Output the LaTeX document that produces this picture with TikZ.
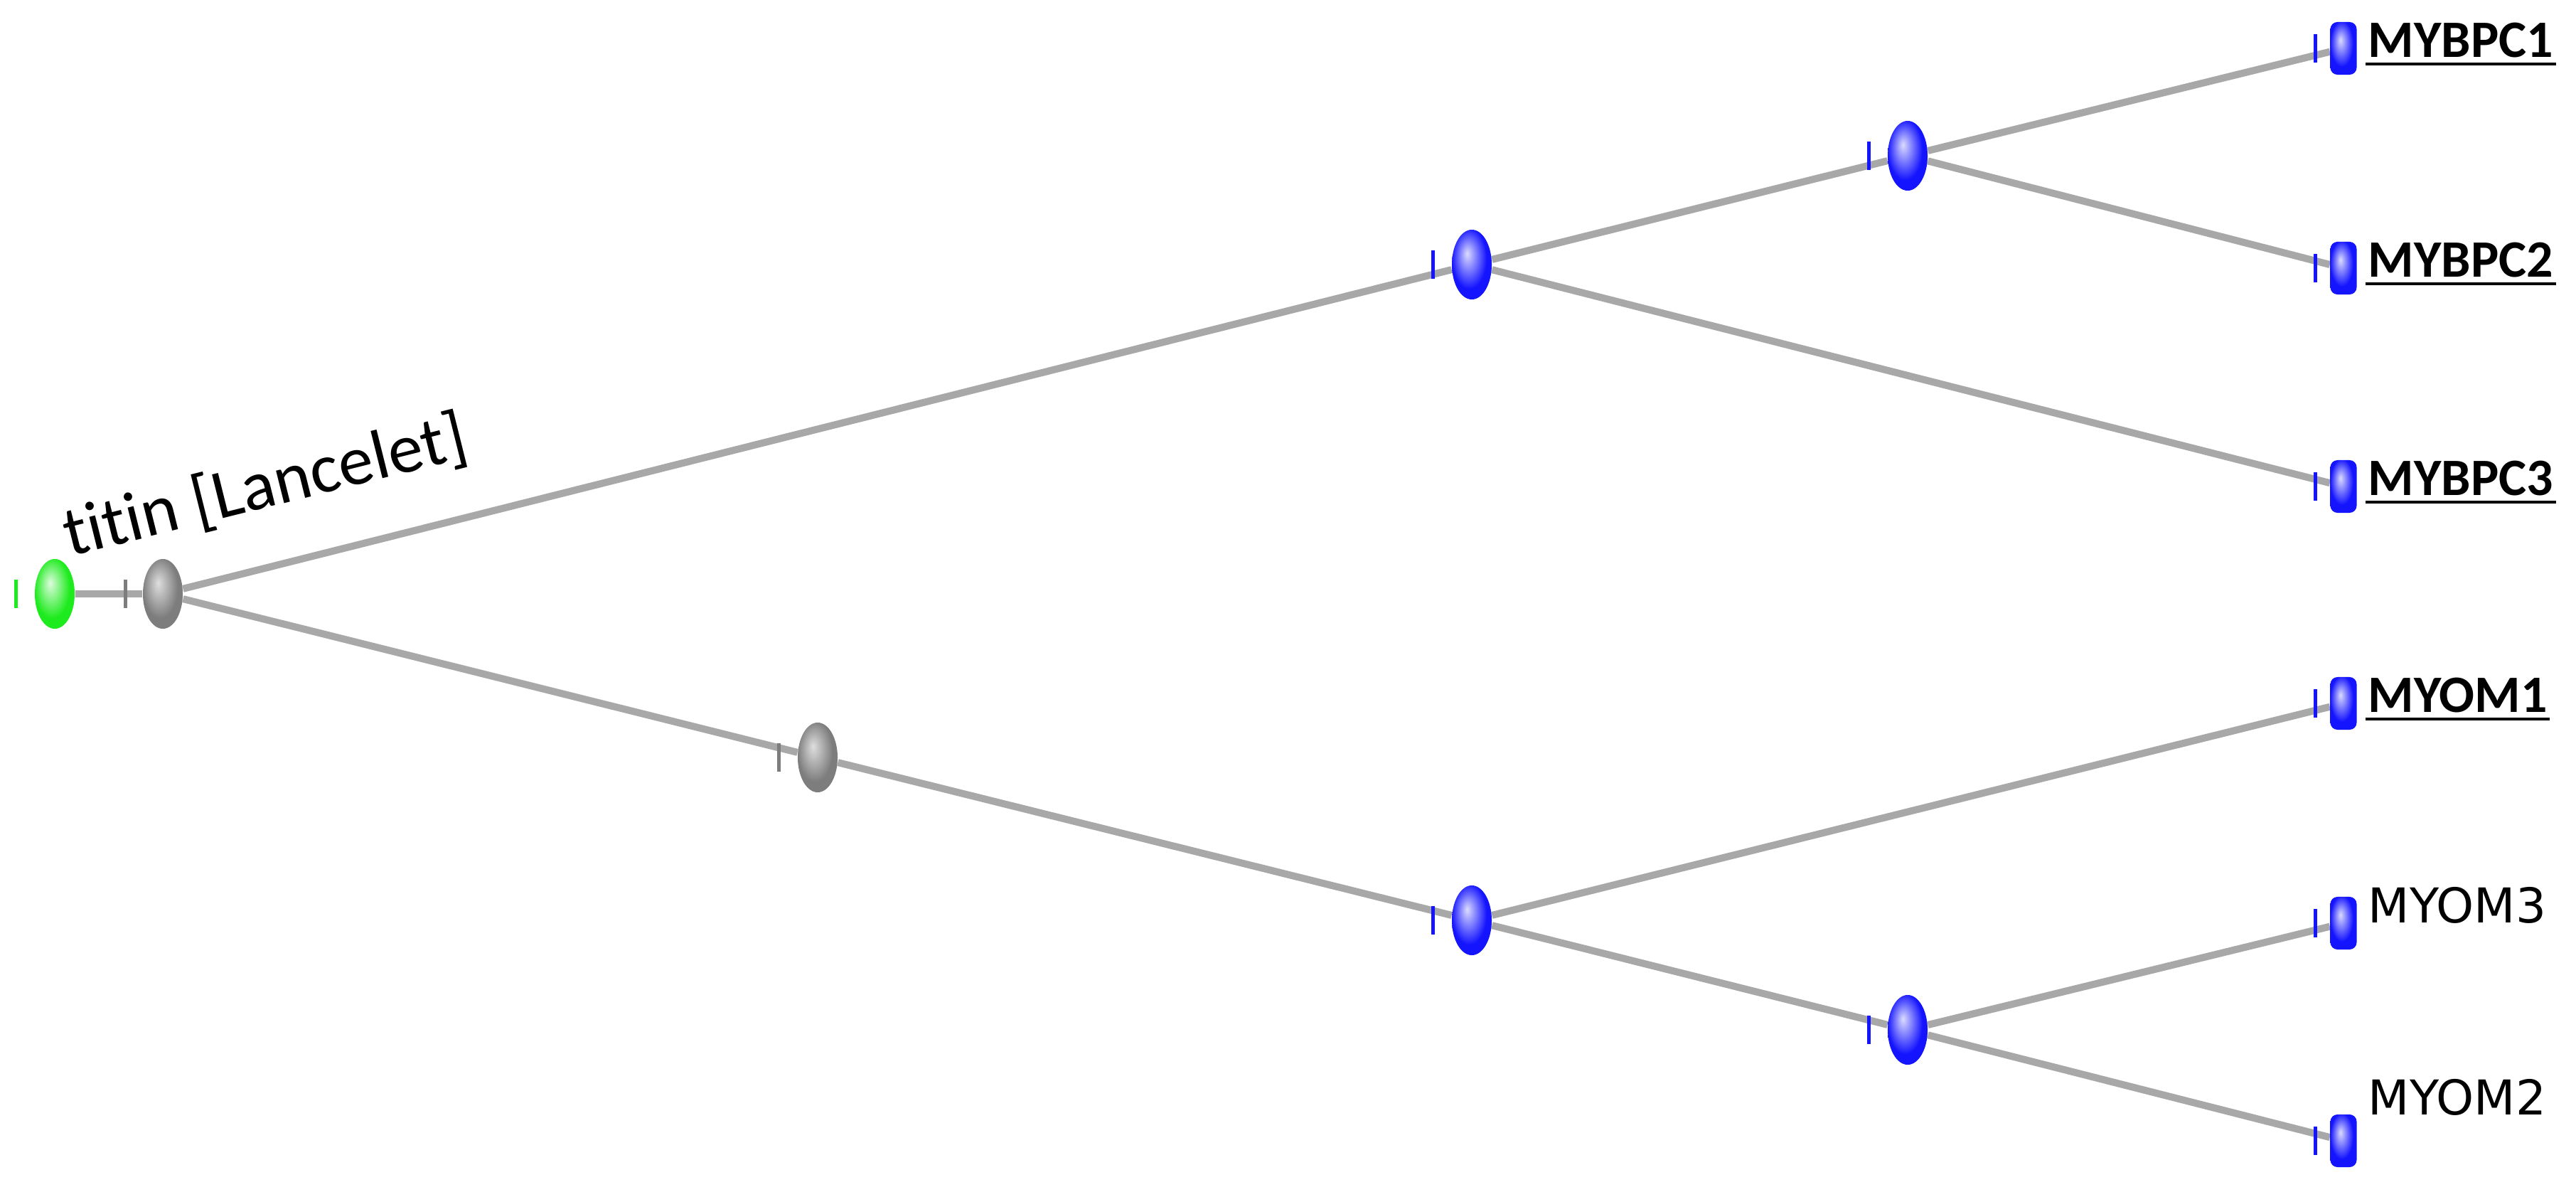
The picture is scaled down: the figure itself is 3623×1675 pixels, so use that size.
\documentclass[tikz,border=0pt]{standalone}
\usepackage{fontspec}
\setmainfont{Carlito}[Ligatures=NoCommon]
\newfontfamily\plainfont{DejaVu Sans}
\usepackage{tikz}
\usetikzlibrary{positioning, shapes.geometric, backgrounds}

\definecolor{nodeblue}{RGB}{20,20,255}
\definecolor{nodegreen}{RGB}{30,235,30}
\definecolor{nodegrey}{RGB}{125,125,125}
\definecolor{edgegrey}{RGB}{168,168,168}

\pgfdeclareradialshading{blueball}{\pgfpoint{-6bp}{8bp}}{color(0bp)=(nodeblue!15!white); color(22bp)=(nodeblue); color(50bp)=(nodeblue)}
\pgfdeclareradialshading{greenball}{\pgfpoint{-6bp}{8bp}}{color(0bp)=(nodegreen!15!white); color(22bp)=(nodegreen); color(50bp)=(nodegreen)}
\pgfdeclareradialshading{greyball}{\pgfpoint{-6bp}{8bp}}{color(0bp)=(nodegrey!25!white); color(22bp)=(nodegrey); color(50bp)=(nodegrey)}

\begin{document}
\begin{tikzpicture}[
    x=0.01cm, y=-0.01cm,
    inner_style/.style={ellipse, minimum width=0.56cm, minimum height=0.98cm, inner sep=0pt},
    leaf_style/.style={rectangle, rounded corners=0.1cm, minimum width=0.37cm, minimum height=0.74cm,
        inner sep=0pt, shading=blueball},
    edge_style/.style={edgegrey, line width=0.1cm},
    tick_style/.style={line width=0.05cm},
    under_style/.style={black, line width=0.045cm},
    bold_style/.style={anchor=base west, inner sep=0pt, font=\fontsize{21}{25}\selectfont\bfseries},
    plain_style/.style={anchor=base west, inner sep=0pt, font=\plainfont\fontsize{19.2}{23}\selectfont}
]
    \useasboundingbox (0,0) rectangle (3623,1675);

    % Inner nodes
    \node[inner_style, shading=greenball] (G) at (77,835) {};
    \node[inner_style, shading=greyball] (R) at (229,835) {};
    \node[inner_style, shading=greyball] (M) at (1150,1065) {};
    \node[inner_style, shading=blueball] (U1) at (2070,372) {};
    \node[inner_style, shading=blueball] (U2) at (2683,219) {};
    \node[inner_style, shading=blueball] (L1) at (2070,1294) {};
    \node[inner_style, shading=blueball] (L2) at (2683,1448) {};

    % Leaves
    \node[leaf_style] (C1) at (3296,68) {};
    \node[leaf_style] (C2) at (3296,377) {};
    \node[leaf_style] (C3) at (3296,684) {};
    \node[leaf_style] (O1) at (3296,989) {};
    \node[leaf_style] (O3) at (3296,1298) {};
    \node[leaf_style] (O2) at (3296,1604) {};

    % Edges
    \begin{scope}[on background layer]
        \draw[edge_style] (G) -- (R);
        \draw[edge_style] (R) -- (U1);
        \draw[edge_style] (R) -- (M);
        \draw[edge_style] (M) -- (L1);
        \draw[edge_style] (U1) -- (U2);
        \draw[edge_style] (U1) -- (C3);
        \draw[edge_style] (U2) -- (C1);
        \draw[edge_style] (U2) -- (C2);
        \draw[edge_style] (L1) -- (O1);
        \draw[edge_style] (L1) -- (L2);
        \draw[edge_style] (L2) -- (O3);
        \draw[edge_style] (L2) -- (O2);
    \end{scope}

    % Ticks
    \foreach \n/\c/\d in {G/nodegreen/26, R/nodegrey/24, M/nodegrey/26, U1/nodeblue/26, U2/nodeblue/26,
        L1/nodeblue/26, L2/nodeblue/26, C1/nodeblue/20, C2/nodeblue/20, C3/nodeblue/20,
        O1/nodeblue/20, O3/nodeblue/20, O2/nodeblue/20}
        \draw[tick_style, \c] ([shift={(-\d,-20)}]\n.west) -- ([shift={(-\d,20)}]\n.west);

    % Labels
    \node[anchor=base west, inner sep=0pt, rotate=14, font=\fontsize{28}{33}\selectfont] (title) at (98,783) {titin [Lancelet]};
    \node[bold_style] (C1_lbl) at (3330,80) {MYBPC1};
    \node[bold_style] (C2_lbl) at (3330,389) {MYBPC2};
    \node[bold_style] (C3_lbl) at (3330,696) {MYBPC3};
    \node[bold_style] (O1_lbl) at (3330,1001) {MYOM1};
    \node[plain_style] (O3_lbl) at (3330,1297) {MYOM3};
    \node[plain_style] (O2_lbl) at (3330,1567) {MYOM2};

    \foreach \n in {C1_lbl, C2_lbl, C3_lbl, O1_lbl}
        \draw[under_style] ([shift={(-3,10)}]\n.base west) -- ([shift={(3,10)}]\n.base east);
\end{tikzpicture}
\end{document}
